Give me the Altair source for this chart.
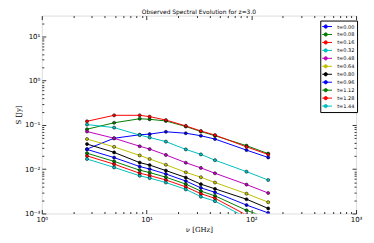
import altair as alt
import pandas as pd

freqs = [2.7, 4.9, 8.6, 10.7, 15.3, 23.7, 33.0, 45.0, 90.0, 145.0]
series_names = ["t=0.00", "t=0.08", "t=0.16", "t=0.32", "t=0.48", "t=0.64",
                "t=0.80", "t=0.96", "t=1.12", "t=1.28", "t=1.44"]
s_000 = [0.0285, 0.050, 0.060, 0.062, 0.070, 0.065, 0.057, 0.048, 0.027, 0.0184]
s_008 = [0.080, 0.112, 0.138, 0.134, 0.123, 0.092, 0.071, 0.057, 0.034, 0.0225]
s_016 = [0.121, 0.165, 0.165, 0.154, 0.129, 0.095, 0.073, 0.059, 0.032, 0.0215]
s_032 = [0.102, 0.087, 0.059, 0.052, 0.042, 0.028, 0.0216, 0.016, 0.0088, 0.0057]
s_048 = [0.071, 0.050, 0.033, 0.0285, 0.021, 0.0140, 0.0107, 0.0081, 0.0045, 0.0029]
s_064 = [0.048, 0.032, 0.0205, 0.017, 0.0126, 0.0085, 0.0066, 0.0050, 0.0028, 0.0018]
s_080 = [0.037, 0.024, 0.0141, 0.0124, 0.0093, 0.0065, 0.0046, 0.0036, 0.0021, 0.0013]
s_096 = [0.028, 0.0183, 0.0115, 0.0101, 0.0078, 0.0054, 0.0038, 0.0030, 0.00155, 0.00103]
s_112 = [0.023, 0.015, 0.0095, 0.0084, 0.0066, 0.0046, 0.0032, 0.0025, 0.00118, 0.00078]
s_128 = [0.020, 0.013, 0.0081, 0.0072, 0.0057, 0.0040, 0.0028, 0.0022, 0.00092, 0.00062]
s_144 = [0.017, 0.011, 0.0071, 0.0063, 0.0050, 0.0035, 0.0024, 0.0019, 0.0008, 0.00052]
all_series = [s_000, s_008, s_016, s_032, s_048, s_064, s_080, s_096, s_112, s_128, s_144]
colors = ["#0000ff", "#008000", "#ff0000", "#00bfbf", "#bf00bf", "#bfbf00",
          "#000000", "#0000ff", "#008000", "#ff0000", "#00bfbf"]

x_major = [1, 10, 100, 1000]
x_major_labels = ["10\u2070", "10\u00b9", "10\u00b2", "10\u00b3"]
x_minor = [m * d for d in [1, 10, 100] for m in range(2, 10)]
y_major = [0.001, 0.01, 0.1, 1, 10]
y_major_labels = ["10\u207b\u00b3", "10\u207b\u00b2", "10\u207b\u00b9", "10\u2070", "10\u00b9"]
y_minor = [round(m * d, 6) for d in [0.001, 0.01, 0.1, 1, 10] for m in range(2, 10) if m * d <= 30]

rows = []
for name, vals in zip(series_names, all_series):
    for f, v in zip(freqs, vals):
        rows.append({"series": name, "nu": f, "S": v})
df = pd.DataFrame(rows)


def label_expr(vals, labs):
    parts = [f"abs(datum.value - {v}) < {v * 1e-4} ? '{l}'" for v, l in zip(vals, labs)]
    return " : ".join(parts) + " : ''"


major_test = "abs(log(datum.value)/LN10 - round(log(datum.value)/LN10)) < 0.001"
tick_size = {"condition": {"test": major_test, "value": -4}, "value": -2}

xscale = alt.Scale(type="log", domain=[1, 1000], nice=False)
yscale = alt.Scale(type="log", domain=[0.001, 29.5], nice=False)
cscale = alt.Scale(domain=series_names, range=colors)

font = "DejaVu Sans"
x_axis = alt.Axis(values=x_major + x_minor, labelExpr=label_expr(x_major, x_major_labels),
                  tickSize=tick_size, tickColor="black", tickWidth=0.8, domain=False,
                  labelPadding=6, labelFontSize=7, labelFont=font, labelColor="black",
                  title="\u03bd [GHz]", titleFont="DejaVu Serif", titleFontSize=7,
                  titleFontWeight="normal", titleColor="black", titlePadding=1,
                  grid=False, labelFlush=False, labelOverlap=False)
y_axis = alt.Axis(values=y_major + y_minor, labelExpr=label_expr(y_major, y_major_labels),
                  tickSize=tick_size, tickColor="black", tickWidth=0.8, domain=False,
                  labelPadding=6, labelFontSize=7, labelFont=font, labelColor="black",
                  title="S [Jy]", titleFont="DejaVu Serif", titleFontSize=7,
                  titleFontWeight="normal", titleColor="black", titlePadding=3,
                  grid=False, labelFlush=False, labelOverlap=False)
x_axis_top = alt.Axis(orient="top", values=x_major + x_minor, labels=False, title=None,
                      tickSize=tick_size, tickColor="black", tickWidth=0.8, domain=False, grid=False)
y_axis_right = alt.Axis(orient="right", values=y_major + y_minor, labels=False, title=None,
                        tickSize=tick_size, tickColor="black", tickWidth=0.8, domain=False, grid=False)

legend_path = "M-2.1,0L2.1,0M-0.55,0A0.55,0.55,0,1,1,0.55,0A0.55,0.55,0,1,1,-0.55,0Z"
legend = alt.Legend(title=None, orient="none", legendX=280, legendY=5,
                    symbolType=legend_path, symbolSize=36, symbolStrokeWidth=1,
                    labelFontSize=5, labelFont=font, labelColor="black", labelOffset=8,
                    rowPadding=0, padding=2, strokeColor="black", fillColor="white",
                    cornerRadius=0, labelLimit=40, clipHeight=8.0)

base = alt.Chart(df)
lines = base.mark_line(strokeWidth=1, clip=True).encode(
    x=alt.X("nu:Q", scale=xscale, axis=x_axis),
    y=alt.Y("S:Q", scale=yscale, axis=y_axis),
    stroke=alt.Stroke("series:N", scale=cscale, legend=legend, sort=series_names),
    detail="series:N",
)
points = base.mark_point(filled=True, size=10, stroke="black", strokeWidth=0.5,
                         opacity=1, clip=True).encode(
    x=alt.X("nu:Q", scale=xscale, axis=None),
    y=alt.Y("S:Q", scale=yscale, axis=None),
    fill=alt.Fill("series:N", scale=cscale, legend=legend, sort=series_names),
    detail="series:N",
)
frame = base.mark_point(opacity=0).encode(
    x=alt.X("nu:Q", scale=xscale, axis=x_axis_top),
    y=alt.Y("S:Q", scale=yscale, axis=y_axis_right),
)

chart = alt.layer(lines, points, frame).resolve_axis(
    x="independent", y="independent"
).properties(
    width=316, height=199,
    title=alt.TitleParams("Observed Spectral Evolution for z=3.0", fontSize=6,
                          font=font, fontWeight="normal", color="black", offset=0.5),
    autosize=alt.AutoSizeParams(type="none"),
    padding={"left": 34, "top": 7, "right": 10, "bottom": 20},
).configure_view(stroke="black", strokeWidth=1).configure(background="white")

chart.save("out.html", embed_options={"renderer": "svg", "actions": False})
